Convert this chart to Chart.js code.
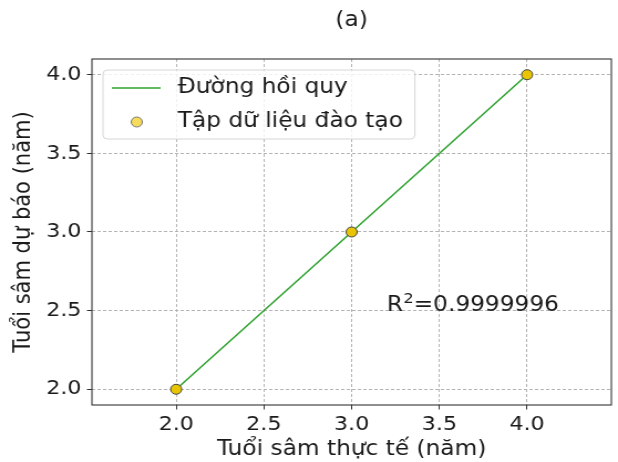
<!DOCTYPE html>
<html>
<head>
<meta charset="utf-8">
<script src="https://cdn.jsdelivr.net/npm/chart.js@4/dist/chart.umd.min.js"></script>
<style>
  html, body { margin: 0; padding: 0; background: #fff; overflow: hidden; }
  /* la figura original esta estirada en horizontal */
  #wrap { width: 558px; height: 462px; transform: scaleX(1.1075); transform-origin: 0 0; }
</style>
</head>
<body>
<div id="wrap"><canvas id="grafico"></canvas></div>
<script>
// Datos
const tuoiThucTe = [2.0, 3.0, 4.0];
const tuoiDuBao = [2.0, 3.0, 4.0];
const duongHoiQuyX = [2.0, 3.0, 4.0];
const duongHoiQuyY = [2.0, 3.0, 4.0];
const ticksX = [2.0, 2.5, 3.0, 3.5, 4.0];
const ticksY = [2.0, 2.5, 3.0, 3.5, 4.0];
const r2Texto = "0.9999996";
const r2Pos = [3.2, 2.5];

const FUENTE = "'DejaVu Sans', sans-serif";
const TAM = 21;
const TAM_TICKS = 20;

// marco, texto R2 y leyenda dentro del area
const extras = {
    id: "extras",
    afterDatasetsDraw(chart) {
        const ctx = chart.ctx;
        const a = chart.chartArea;
        ctx.save();
        ctx.strokeStyle = "#333";
        ctx.lineWidth = 1.1;
        ctx.strokeRect(a.left, a.top, a.right - a.left, a.bottom - a.top);

        // texto R2
        const x = chart.scales.x.getPixelForValue(r2Pos[0]);
        const y = chart.scales.y.getPixelForValue(r2Pos[1]);
        ctx.fillStyle = "#1a1a1a";
        ctx.textBaseline = "alphabetic";
        ctx.font = TAM + "px " + FUENTE;
        ctx.fillText("R", x, y);
        let w = ctx.measureText("R").width;
        ctx.font = "14.5px " + FUENTE;
        ctx.fillText("2", x + w + 0.5, y - 8);
        w += ctx.measureText("2").width + 0.5;
        ctx.font = TAM + "px " + FUENTE;
        ctx.fillText("=" + r2Texto, x + w, y);

        // leyenda
        const lx = a.left + 10, ly = a.top + 11, lw = 281.6, lh = 69;
        ctx.beginPath();
        ctx.roundRect(lx, ly, lw, lh, 4);
        ctx.fillStyle = "rgba(255,255,255,0.8)";
        ctx.fill();
        ctx.strokeStyle = "#d6d6d6";
        ctx.lineWidth = 1;
        ctx.stroke();

        const ds = chart.data.datasets;
        ctx.strokeStyle = ds[0].borderColor;
        ctx.lineWidth = 1.5;
        ctx.beginPath();
        ctx.moveTo(lx + 8, ly + 18);
        ctx.lineTo(lx + 52, ly + 18);
        ctx.stroke();

        ctx.beginPath();
        ctx.arc(lx + 30.5, ly + 52, 5, 0, Math.PI * 2);
        ctx.fillStyle = "#f6dc5a";
        ctx.fill();
        ctx.strokeStyle = "#777";
        ctx.lineWidth = 1;
        ctx.stroke();

        ctx.fillStyle = "#1a1a1a";
        ctx.font = TAM + "px " + FUENTE;
        ctx.textBaseline = "middle";
        ctx.fillText(ds[0].label, lx + 67.5, ly + 18);
        ctx.fillText(ds[1].label, lx + 67.5, ly + 52);
        ctx.restore();
    }
};

const ejeComun = {
    type: "linear",
    border: { display: false, dash: [3, 2] },
    grid: {
        color: "#b3b3b3",
        lineWidth: 1,
        tickColor: "#333",
        tickBorderDash: [],
        tickLength: 4.5,
    },
};

const ctx = document.getElementById("grafico").getContext("2d");
const miGrafico = new Chart(ctx, {
    type: "scatter",
    data: {
        datasets: [
            {
                type: "line",
                label: "Đường hồi quy",
                data: duongHoiQuyX.map((v, i) => ({ x: v, y: duongHoiQuyY[i] })),
                borderColor: "#2ca02c",
                borderWidth: 1.5,
                pointRadius: 0,
                fill: false,
                order: 2,
            },
            {
                label: "Tập dữ liệu đào tạo",
                data: tuoiThucTe.map((v, i) => ({ x: v, y: tuoiDuBao[i] })),
                backgroundColor: "#e8c500",
                borderColor: "#444",
                borderWidth: 1,
                pointRadius: 5,
                order: 1,
            },
        ],
    },
    options: {
        responsive: true,
        maintainAspectRatio: false,
        animation: false,
        layout: { padding: { right: 1.8 } },
        plugins: {
            legend: { display: false },
            tooltip: { enabled: false },
            title: {
                display: true,
                text: "(a)",
                fullSize: false,
                color: "#1a1a1a",
                font: { family: FUENTE, size: TAM, weight: "normal" },
                padding: { top: 8, bottom: 25.8 },
            },
        },
        scales: {
            x: {
                ...ejeComun,
                min: 1.52,
                max: 4.48,
                afterBuildTicks: (s) => { s.ticks = ticksX.map((v) => ({ value: v })); },
                afterFit: (s) => { s.height = 57; },
                ticks: {
                    color: "#1a1a1a",
                    padding: 3,
                    font: { family: FUENTE, size: TAM_TICKS },
                    callback: (v) => v.toFixed(1),
                },
                title: {
                    display: true,
                    text: "Tuổi sâm thực tế (năm)",
                    color: "#1a1a1a",
                    font: { family: FUENTE, size: TAM },
                    padding: { top: 0, bottom: 0 },
                },
            },
            y: {
                ...ejeComun,
                min: 1.9,
                max: 4.1,
                afterBuildTicks: (s) => { s.ticks = ticksY.map((v) => ({ value: v })); },
                afterFit: (s) => { s.width = 83; },
                ticks: {
                    color: "#1a1a1a",
                    padding: 5,
                    font: { family: FUENTE, size: TAM_TICKS },
                    callback: (v) => v.toFixed(1),
                },
                title: {
                    display: true,
                    text: "Tuổi sâm dự báo (năm)",
                    color: "#1a1a1a",
                    font: { family: FUENTE, size: TAM },
                    padding: { top: 9, bottom: 0 },
                },
            },
        },
    },
    plugins: [extras],
});
</script>
</body>
</html>
